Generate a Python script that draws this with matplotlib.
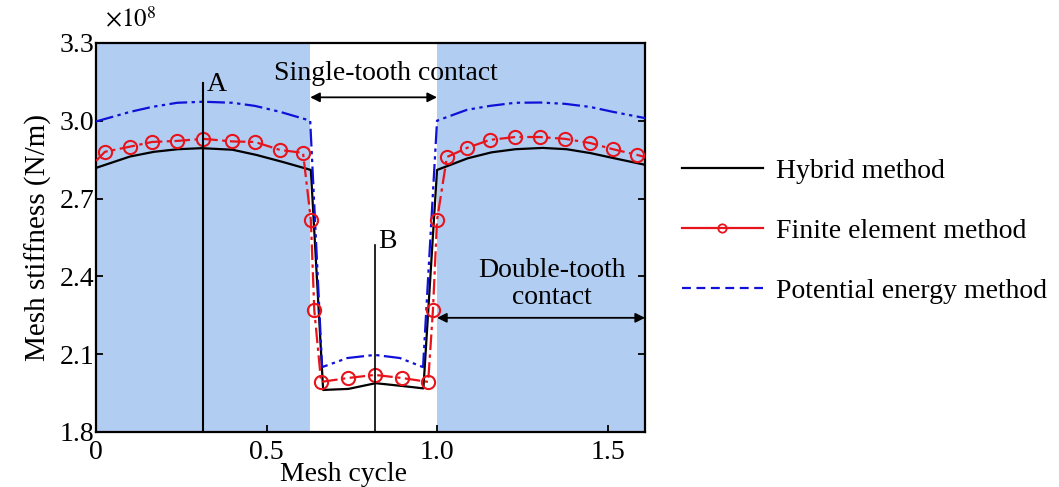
import matplotlib
matplotlib.use("Agg")
import matplotlib.pyplot as plt
from matplotlib.lines import Line2D

plt.rcParams.update({"font.family": "Liberation Serif", "mathtext.fontset": "stix",
                     "font.size": 20})

# mesh cycle vs stiffness (x1e8 N/m)
hyb_x = [0, 0.1, 0.17, 0.24, 0.31, 0.4, 0.47, 0.55, 0.63, 0.666, 0.74, 0.82, 0.9, 0.96,
         1.0, 1.09, 1.16, 1.23, 1.31, 1.38, 1.45, 1.52, 1.61]
hyb_y = [2.818, 2.862, 2.88, 2.89, 2.894, 2.888, 2.868, 2.84, 2.81, 1.962, 1.966, 1.988, 1.977, 1.968,
         2.81, 2.855, 2.878, 2.89, 2.895, 2.89, 2.875, 2.855, 2.83]

fem_x = [0, 0.026, 0.10, 0.164, 0.238, 0.314, 0.40, 0.466, 0.54, 0.607, 0.63, 0.64, 0.66,
         0.739, 0.818, 0.897, 0.974, 0.988, 1.0, 1.029, 1.088, 1.155, 1.229, 1.302, 1.375,
         1.449, 1.516, 1.587, 1.61]
fem_y = [2.845, 2.88, 2.90, 2.918, 2.922, 2.93, 2.92, 2.918, 2.887, 2.876, 2.617, 2.27, 1.993,
         2.008, 2.02, 2.008, 1.993, 2.27, 2.617, 2.86, 2.895, 2.926, 2.937, 2.937, 2.93,
         2.914, 2.89, 2.868, 2.86]

pem_x = [0, 0.1, 0.164, 0.238, 0.314, 0.40, 0.466, 0.54, 0.628, 0.663, 0.737, 0.818, 0.891,
         0.959, 1.0, 1.088, 1.155, 1.229, 1.302, 1.375, 1.449, 1.516, 1.61]
pem_y = [2.997, 3.034, 3.053, 3.069, 3.073, 3.069, 3.057, 3.034, 3.0, 2.05, 2.085, 2.097, 2.085,
         2.05, 3.0, 3.042, 3.057, 3.069, 3.07, 3.065, 3.053, 3.034, 3.01]

double_zones = [(0, 0.628), (1.0, 1.61)]
point_a, point_b = 0.314, 0.818

SHADE = "#b1cdf2"

fig = plt.figure(figsize=(10.59, 4.87), dpi=100)
ax = fig.add_axes([0.0907, 0.113, 0.5184, 0.799])
ax.set_xlim(0, 1.61); ax.set_ylim(1.8, 3.3)

for a, b in double_zones:
    ax.axvspan(a, b, color=SHADE, lw=0, zorder=0)

ax.plot(hyb_x, hyb_y, color="black", lw=1.6, zorder=3)
ax.plot(fem_x, fem_y, color="#e8141c", lw=1.6, ls=(0, (7, 2, 1.5, 2)), marker="o",
        mfc="none", mec="#e8141c", ms=9.5, mew=1.5, markevery=slice(1, -1), zorder=4)
ax.plot(pem_x, pem_y, color="#1010d8", lw=1.6, ls=(0, (8, 2, 1.5, 2, 1.5, 2)), zorder=3)

# markers A and B
ax.plot([point_a, point_a], [1.8, 3.145], color="black", lw=1.5, zorder=5)
ax.text(point_a + 0.01, 3.14, "A", ha="left", va="center")
ax.plot([point_b, point_b], [1.8, 2.52], color="black", lw=1.2, zorder=5)
ax.text(point_b + 0.008, 2.535, "B", ha="left", va="center")

# contact annotations
ax.annotate("", xy=(0.628, 3.09), xytext=(1.0, 3.09),
            arrowprops=dict(arrowstyle="<|-|>", color="black", lw=1.3, mutation_scale=14,
                            shrinkA=0, shrinkB=0))
ax.text(0.85, 3.18, "Single-tooth contact", ha="center", va="center")
ax.annotate("", xy=(1.0, 2.24), xytext=(1.61, 2.24),
            arrowprops=dict(arrowstyle="<|-|>", color="black", lw=1.3, mutation_scale=14,
                            shrinkA=0, shrinkB=0))
ax.text(1.337, 2.37, "Double-tooth\ncontact", ha="center", va="center", linespacing=1.1)

ax.set_xticks([0, 0.5, 1.0, 1.5]); ax.set_xticklabels(["0", "0.5", "1.0", "1.5"])
ax.set_yticks([1.8, 2.1, 2.4, 2.7, 3.0, 3.3])
ax.tick_params(direction="in", length=5, width=1.3, right=True, labelsize=20)
ax.tick_params(axis="x", pad=6)
ax.tick_params(axis="y", pad=1)
for s in ax.spines.values():
    s.set_linewidth(1.6)
ax.set_ylabel("Mesh stiffness (N/m)", fontsize=21, labelpad=6)
ax.set_xlabel("Mesh cycle")
ax.xaxis.set_label_coords(0.45, -0.077)
ax.text(0.016, 1.06, r"$\times10^{8}$", transform=ax.transAxes, ha="left", va="center",
        fontsize=18)

handles = [
    Line2D([], [], color="black", lw=1.6),
    Line2D([], [], color="#e8141c", lw=1.6, marker="o", mfc="none", ms=6, mew=1.3),
    Line2D([], [], color="#1010d8", lw=1.6, ls=(0, (4, 2.5))),
]
labels = ["Hybrid method", "Finite element method", "Potential energy method"]
fig.legend(handles, labels, loc="center left", bbox_to_anchor=(682 / 1059, 1 - 231 / 487),
           frameon=False, fontsize=20, handlelength=2.9, handletextpad=0.5,
           labelspacing=1.25, borderpad=0, borderaxespad=0)

fig.savefig("out.png", dpi=100)
